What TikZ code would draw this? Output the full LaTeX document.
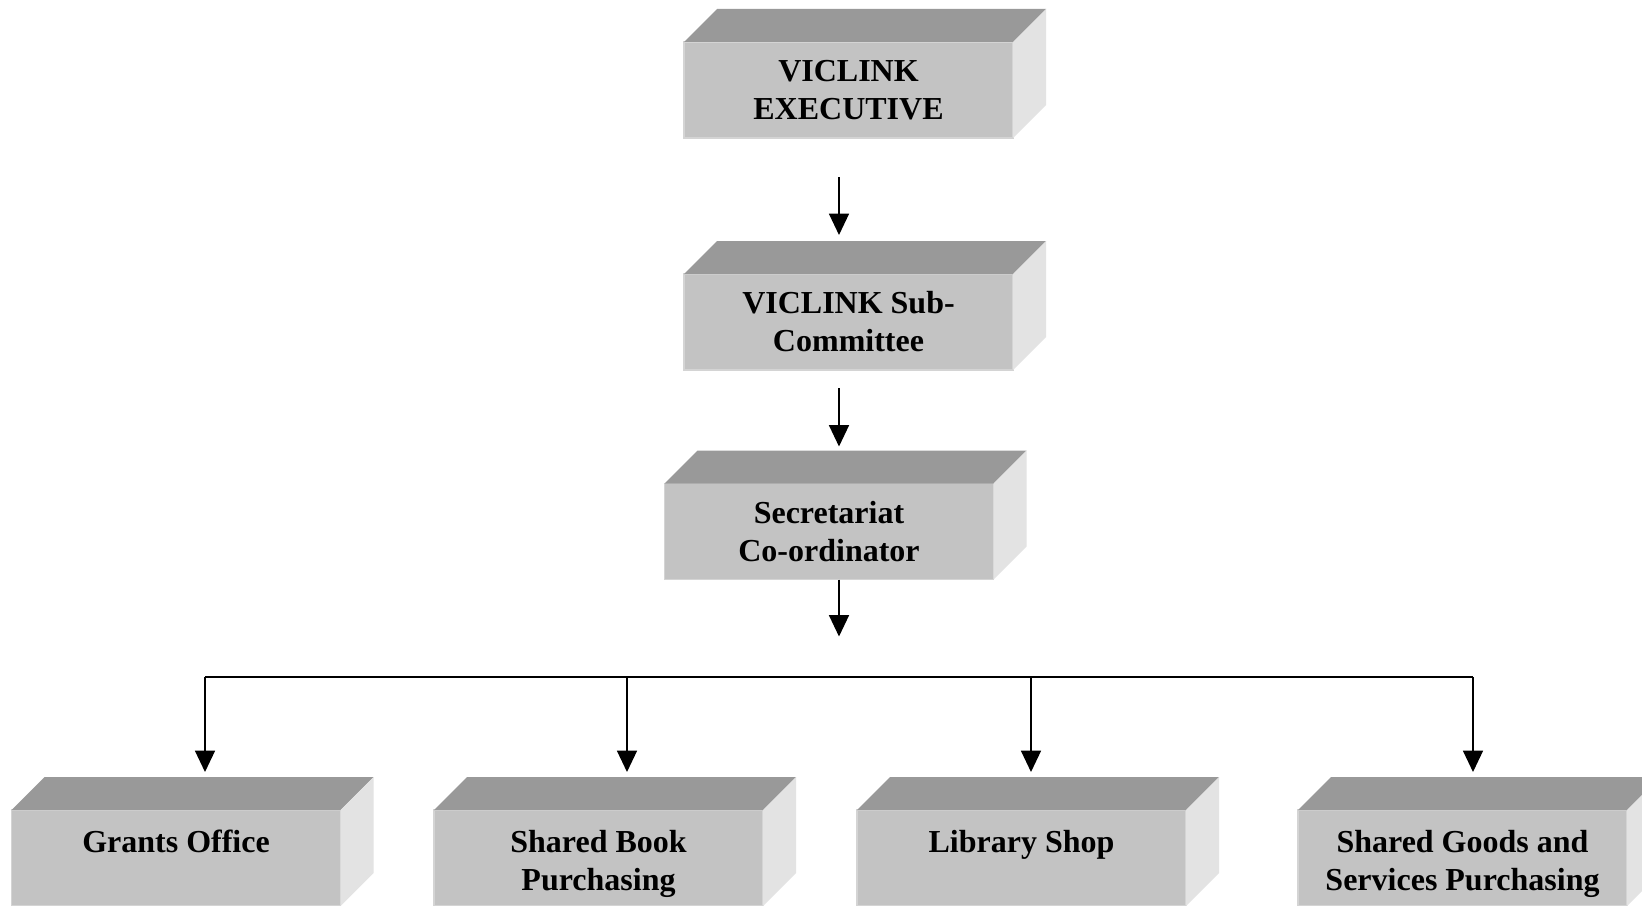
\documentclass[tikz,border=0pt]{standalone}
\usepackage{fontspec}
\setmainfont{Liberation Serif}
\usetikzlibrary{calc,arrows.meta}
\definecolor{frontc}{HTML}{C3C3C3}
\definecolor{topc}{HTML}{999999}
\definecolor{sidec}{HTML}{E3E3E3}
\definecolor{edgec}{HTML}{D4D4D4}
\tikzset{
  front/.style={rectangle, fill=frontc, draw=edgec, line width=1.2pt, outer sep=0pt,
    minimum width=246.75pt, minimum height=72pt, inner sep=0pt, align=center,
    font=\fontsize{24}{28.5}\selectfont\bfseries, text=black},
  arr/.style={line width=1pt, -{Triangle[width=15pt,length=16pt]}},
  bus/.style={line width=1pt},
}
\newcommand\cubefaces[1]{%
  \fill[topc] (#1.north west) -- ++(33,-33) -- ($(#1.north east)+(33,-33)$) -- (#1.north east) -- cycle;
  \fill[sidec] (#1.north east) -- ++(33,-33) -- ($(#1.south east)+(33,-33)$) -- (#1.south east) -- cycle;
}
\newcommand\topfill{\rule{0pt}{29pt}}
\begin{document}
\begin{tikzpicture}[x=0.75pt,y=-0.75pt]
\useasboundingbox[fill=white] (0,0) rectangle (1642,906);
% boxes
\node[front] (exec) at (848.5,90) {VICLINK\\EXECUTIVE};
\cubefaces{exec}
\node[front] (sub) at (848.5,322) {VICLINK Sub-\\Committee};
\cubefaces{sub}
\node[front] (sec) at (829,531.5) {Secretariat\\Co-ordinator};
\cubefaces{sec}
\node[front] (g1) at (176,858) {\topfill Grants Office\\\strut};
\cubefaces{g1}
\node[front] (g2) at (598.5,858) {\topfill Shared Book\\Purchasing\strut};
\cubefaces{g2}
\node[front] (g3) at (1021.5,858) {\topfill Library Shop\\\strut};
\cubefaces{g3}
\node[front] (g4) at (1462.5,858) {\topfill Shared Goods and\\Services Purchasing\strut};
\cubefaces{g4}
% connectors
\draw[arr] ($(exec.south)+(-9.5,39)$) -- ($(sub.north)+(-9.5,-39)$);
\draw[arr] ($(sub.south)+(-9.5,18)$) -- ($(sec.north)+(10,-37)$);
\draw[arr] ($(sec.south)+(10,0)$) -- ($(sec.south)+(10,57)$);
\coordinate (j1) at (205,677);
\coordinate (j2) at (627,677);
\coordinate (j3) at (1031,677);
\coordinate (j4) at (1473,677);
\draw[bus] (j1) -- (j4);
\draw[arr] (j1) -- (j1 |- 0,772);
\draw[arr] (j2) -- (j2 |- 0,772);
\draw[arr] (j3) -- (j3 |- 0,772);
\draw[arr] (j4) -- (j4 |- 0,772);
\end{tikzpicture}
\end{document}
